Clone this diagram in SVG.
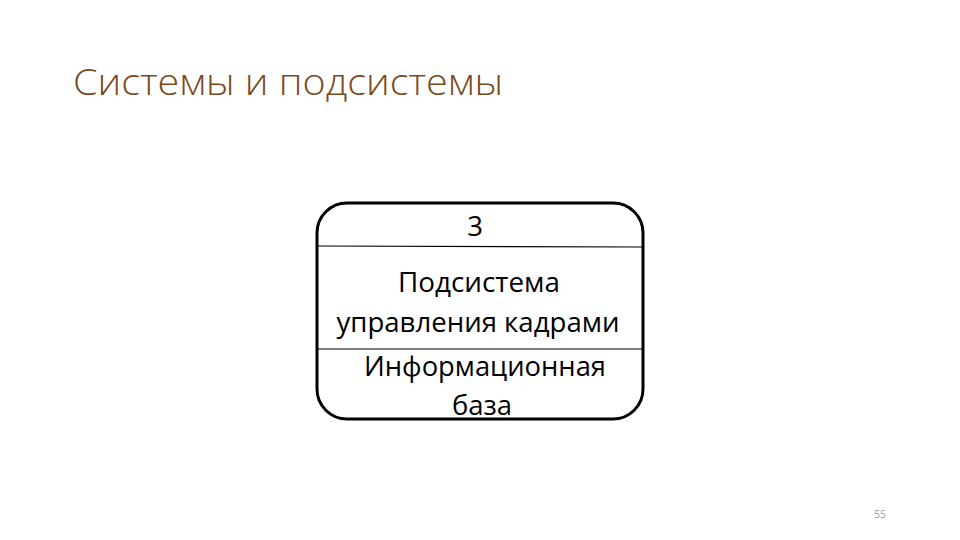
<svg xmlns="http://www.w3.org/2000/svg" width="960" height="540" viewBox="0 0 960 540">
<style>
.t{font-family:"Open Sans","Liberation Sans",sans-serif;fill:#000;font-size:27.5px;text-anchor:middle}
.ln{stroke:#000;stroke-width:1.2}
</style>
<rect width="960" height="540" fill="#fff"/>
<text x="73" y="95" font-family="Open Sans, Liberation Sans, sans-serif" font-size="36" font-weight="300" fill="#7a4a1e" textLength="430" lengthAdjust="spacingAndGlyphs">Системы и подсистемы</text>
<g id="node3">
<rect x="317" y="203" width="326" height="216" rx="30" ry="30" fill="#fff" stroke="#000" stroke-width="3"/>
<line class="ln" x1="317" y1="246" x2="643" y2="247"/>
<line class="ln" x1="317" y1="349" x2="643" y2="349"/>
<text class="t" x="475" y="236">3</text>
<text class="t" x="479" y="292" textLength="162" lengthAdjust="spacingAndGlyphs">Подсистема</text>
<text class="t" x="478" y="332" textLength="283" lengthAdjust="spacingAndGlyphs">управления кадрами</text>
<text class="t" x="485" y="376" textLength="242" lengthAdjust="spacingAndGlyphs">Информационная</text>
<text class="t" x="482" y="415">база</text>
</g>
<g id="connectors"></g>
<text x="880" y="518" font-family="Open Sans, Liberation Sans, sans-serif" font-size="10" fill="#999" text-anchor="middle">55</text>
</svg>
